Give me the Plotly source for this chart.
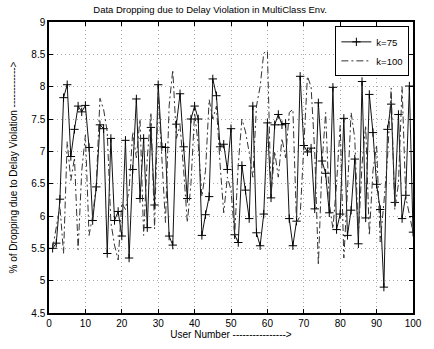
import plotly.graph_objects as go

users = list(range(1, 101))

k75 = [5.50, 5.58, 6.26, 7.83, 8.03, 6.92, 7.34, 7.70, 7.61, 7.71,
       7.06, 5.93, 6.45, 7.41, 7.35, 5.42, 7.20, 5.93, 6.07, 5.69,
       7.17, 5.35, 6.72, 7.81, 6.27, 7.20, 5.82, 7.37, 6.17, 8.03,
       7.07, 7.06, 5.69, 5.55, 7.42, 7.89, 7.07, 6.27, 7.50, 7.70,
       7.50, 5.70, 6.02, 6.30, 8.12, 7.86, 7.07, 7.11, 6.72, 7.35,
       5.71, 5.59, 6.78, 6.40, 5.96, 7.70, 5.74, 5.54, 6.03, 7.44,
       6.28, 7.41, 7.57, 7.41, 7.43, 5.96, 5.54, 5.92, 8.16, 7.09,
       6.99, 7.05, 6.11, 7.75, 6.85, 6.66, 6.05, 7.99, 5.79, 6.03,
       7.51, 5.70, 6.09, 6.88, 5.57, 8.08, 5.97, 7.88, 7.29, 6.49,
       6.10, 4.90, 7.34, 7.73, 6.21, 7.57, 5.96, 6.32, 8.01, 5.75]

k100 = [5.50, 5.85, 6.15, 5.42, 7.15, 6.55, 6.90, 5.48, 6.70, 7.25,
        5.70, 6.00, 6.50, 7.82, 7.65, 7.30, 5.90, 5.55, 5.32, 6.20,
        6.10, 6.40, 7.30, 6.90, 7.50, 5.70, 6.90, 7.60, 5.80, 7.90,
        6.90, 5.90, 7.70, 8.26, 7.20, 7.40, 6.70, 5.90, 6.50, 7.60,
        7.10, 6.30, 6.70, 7.80, 7.50, 7.70, 6.80, 6.05, 6.60, 6.40,
        5.70, 6.80, 7.50, 7.30, 6.98, 6.60, 7.70, 8.00, 8.52, 8.55,
        6.32, 7.00, 6.60, 7.20, 6.90, 7.60, 7.65, 5.90, 6.00, 7.20,
        8.16, 8.00, 7.00, 5.24, 6.80, 7.60, 6.20, 5.80, 6.50, 7.40,
        5.35, 6.40, 7.60, 7.20, 5.70, 6.80, 7.40, 5.70, 6.70, 7.10,
        5.60, 6.20, 6.90, 7.98, 6.10, 6.50, 8.00, 6.30, 6.00, 5.75]

x_ticks = list(range(0, 101, 10))
y_ticks = [4.5, 5, 5.5, 6, 6.5, 7, 7.5, 8, 8.5, 9]
y_tick_labels = ["4.5", "5", "5.5", "6", "6.5", "7", "7.5", "8", "8.5", "9"]

FONT = "Liberation Sans, Arial, Helvetica, sans-serif"

fig = go.Figure()
fig.add_trace(go.Scatter(
    x=users, y=k75, name="k=75", mode="lines+markers",
    line=dict(color="#111111", width=1),
    marker=dict(symbol="cross-thin", size=6, line=dict(color="black", width=1), color="black"),
))
fig.add_trace(go.Scatter(
    x=users, y=k100, name="k=100", mode="lines",
    line=dict(color="#333333", width=1, dash="7px,3px,2px,3px"),
))

axis_common = dict(
    showline=True, linecolor="black", linewidth=1.5, mirror="ticks",
    ticks="inside", ticklen=4, tickcolor="black", tickwidth=1,
    showgrid=True, gridcolor="#a8a8a8", gridwidth=1, griddash="1px,3px",
    zeroline=False, tickfont=dict(family=FONT, size=10, color="black"),
)

fig.update_xaxes(range=[0, 100], tickvals=x_ticks, **axis_common,
                 title=dict(text="User Number ---------------->", font=dict(family=FONT, size=10, color="black"), standoff=1))
fig.update_yaxes(range=[4.5, 9], tickvals=y_ticks, ticktext=y_tick_labels, **axis_common,
                 title=dict(text="% of Dropping due to Delay Violation ------------>", font=dict(family=FONT, size=10, color="black"), standoff=12))

fig.update_layout(
    width=434, height=349,
    margin=dict(l=47, r=15, t=22, b=34),
    paper_bgcolor="white", plot_bgcolor="white",
    title=dict(text="Data Dropping due to Delay Violation in MultiClass Env.", x=0.484, xanchor="center",
               y=0.982, yanchor="top", font=dict(family=FONT, size=9.5, color="black")),
    legend=dict(x=0.99, y=0.985, xanchor="right", yanchor="top", bgcolor="white",
                bordercolor="black", borderwidth=1, font=dict(family=FONT, size=9.5, color="black"),
                itemwidth=30, tracegroupgap=0),
    showlegend=True,
)

fig.write_html("out.html")
